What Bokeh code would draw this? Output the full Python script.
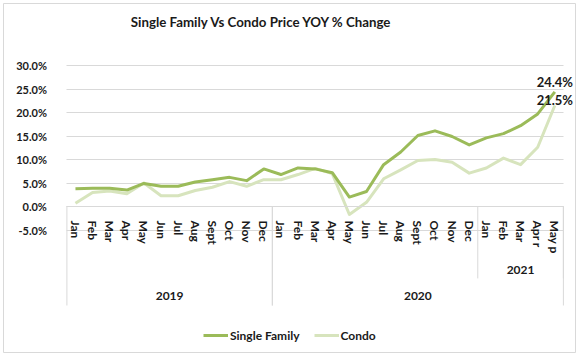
from bokeh.plotting import figure
from bokeh.models import (Range1d, LinearAxis, FixedTicker, PrintfTickFormatter, Grid,
                          ColumnDataSource, LabelSet, Label, Legend, LegendItem)
from bokeh.core.properties import value
from bokeh.embed import file_html
from bokeh.resources import INLINE

# ---------------- data ----------------
months = ["Jan", "Feb", "Mar", "Apr", "May", "Jun", "Jul", "Aug", "Sept", "Oct", "Nov", "Dec",
          "Jan", "Feb", "Mar", "Apr", "May", "Jun", "Jul", "Aug", "Sept", "Oct", "Nov", "Dec",
          "Jan", "Feb", "Mar", "Apr r", "May p"]
single_family = [3.8, 3.9, 3.9, 3.5, 4.9, 4.3, 4.3, 5.2, 5.7, 6.2, 5.5, 8.0,
                 6.8, 8.2, 8.0, 7.2, 2.0, 3.2, 8.9, 11.6, 15.1, 16.1, 14.9, 13.1,
                 14.6, 15.5, 17.2, 19.7, 24.4]
condo = [0.7, 3.0, 3.3, 2.7, 5.0, 2.3, 2.3, 3.4, 4.1, 5.3, 4.3, 5.7,
         5.7, 6.8, 8.1, 7.0, -1.7, 0.9, 5.9, 7.8, 9.8, 10.0, 9.4, 7.1,
         8.2, 10.3, 8.9, 12.6, 21.5]
end_labels = ["24.4%", "21.5%"]
group_labels = ["2019", "2020", "2021"]
group_first = [0, 12, 24]
group_last = [11, 28, 28]
group_level = [0, 0, 1]
y_ticks = [-5, 0, 5, 10, 15, 20, 25, 30]
title_text = "Single Family Vs Condo Price YOY % Change"

# ---------------- style / layout ----------------
FONT = "Lato"
SF_COLOR = "#9BBB59"
CONDO_COLOR = "#D7E4BD"
GRID_COLOR = "#D9D9D9"
BORDER_COLOR = "#D9D9D9"
TEXT_COLOR = "#1A1A1A"

W, H = 579, 357
B_LEFT, B_TOP, B_RIGHT, B_BOTTOM = 3, 3, 4, 5      # outer chart border inset
PLOT_LEFT_PX = 66.4       # screen x of the category area's left edge
PX_PER_CAT = 17.12
ZERO_PX = 206.0           # screen y of 0 %
PX_PER_PCT = 4.7

n = len(months)
idx = list(range(n))
cat_lo, cat_hi = -0.5, n - 0.5

frame_w = W - B_LEFT - B_RIGHT
frame_h = H - B_TOP - B_BOTTOM
x_start = cat_lo - (PLOT_LEFT_PX - B_LEFT) / PX_PER_CAT
x_end = x_start + frame_w / PX_PER_CAT
y_top = (ZERO_PX - B_TOP) / PX_PER_PCT
y_bot = (ZERO_PX - (H - B_BOTTOM)) / PX_PER_PCT

level_bottom = [-21.06, -15.3]
level_label_y = [-19.1, -13.6]

p = figure(width=W, height=H, output_backend="svg", toolbar_location=None,
           x_range=Range1d(x_start, x_end), y_range=Range1d(y_bot, y_top),
           x_axis_type=None, y_axis_type=None,
           min_border_left=B_LEFT, min_border_right=B_RIGHT,
           min_border_top=B_TOP, min_border_bottom=B_BOTTOM)
p.outline_line_color = BORDER_COLOR
p.outline_line_width = 1
p.background_fill_color = "white"
p.border_fill_color = "white"

# horizontal gridlines, limited to the category span
grid_kw = dict(dimension=1, ticker=FixedTicker(ticks=y_ticks),
               grid_line_color=GRID_COLOR, grid_line_width=1)
if "cross_bounds" in Grid.properties():
    p.add_layout(Grid(cross_bounds=(cat_lo, cat_hi), **grid_kw))
else:
    p.segment(x0=[cat_lo] * len(y_ticks), y0=y_ticks, x1=[cat_hi] * len(y_ticks), y1=y_ticks,
              line_color=GRID_COLOR, line_width=1, level="underlay")

# value axis (placed at the left edge of the category span)
yaxis = LinearAxis(fixed_location=cat_lo, ticker=FixedTicker(ticks=y_ticks),
                   formatter=PrintfTickFormatter(format="%.1f%%"),
                   axis_line_color=None, major_tick_line_color=None,
                   minor_tick_line_color=None, major_label_standoff=14,
                   major_label_text_font=FONT, major_label_text_font_style="bold",
                   major_label_text_font_size="11px", major_label_text_color=TEXT_COLOR)
p.add_layout(yaxis, "left")

# category axis crossing at 0
xaxis = LinearAxis(fixed_location=0, ticker=FixedTicker(ticks=idx), bounds=(cat_lo, cat_hi),
                   major_label_overrides={i: m for i, m in enumerate(months)},
                   major_label_orientation="vertical",
                   axis_line_color=GRID_COLOR, axis_line_width=1,
                   major_tick_line_color=None, minor_tick_line_color=None,
                   major_label_standoff=8,
                   major_label_text_font=FONT, major_label_text_font_style="bold",
                   major_label_text_font_size="12px", major_label_text_color=TEXT_COLOR)
p.add_layout(xaxis, "below")

# group separators and labels
sep_x, sep_y0, sep_y1 = [], [], []
for f, l, lev in zip(group_first, group_last, group_level):
    for b in (f - 0.5, l + 0.5):
        sep_x.append(b)
        sep_y0.append(0)
        sep_y1.append(level_bottom[lev])
p.segment(x0=sep_x, y0=sep_y0, x1=sep_x, y1=sep_y1, line_color=GRID_COLOR, line_width=1)

gx = [(f + l) / 2 for f, l in zip(group_first, group_last)]
gy = [level_label_y[lev] for lev in group_level]
p.text(x=gx, y=gy, text=group_labels, text_font=value(FONT), text_font_style="bold",
       text_font_size="12px", text_color=TEXT_COLOR, text_align="center",
       text_baseline="middle")

# lines
r_condo = p.line(idx, condo, line_color=CONDO_COLOR, line_width=3, line_join="round")
r_sf = p.line(idx, single_family, line_color=SF_COLOR, line_width=3, line_join="round")

# end labels
lab_src = ColumnDataSource(dict(x=[n - 1, n - 1], y=[single_family[-1], condo[-1]],
                                text=end_labels, dy=[10, 5]))
p.add_layout(LabelSet(x="x", y="y", text="text", y_offset="dy", source=lab_src,
                      text_font=value(FONT), text_font_style="bold", text_font_size="13px",
                      text_color=TEXT_COLOR, text_align="center", text_baseline="middle"))

# title
p.add_layout(Label(x=10.87, y=39.15, text=title_text, text_font=FONT,
                   text_font_style="bold", text_font_size="13.3px", text_color=TEXT_COLOR,
                   text_align="center", text_baseline="middle"))

# legend
legend = Legend(items=[LegendItem(label="Single Family", renderers=[r_sf]),
                       LegendItem(label="Condo", renderers=[r_condo])],
                location=(200, 9), orientation="horizontal",
                glyph_width=25, glyph_height=16, label_height=16, label_standoff=2,
                spacing=14, padding=0, margin=0,
                border_line_color=None, background_fill_alpha=0,
                label_text_font=FONT, label_text_font_style="bold",
                label_text_font_size="12px", label_text_color=TEXT_COLOR)
p.add_layout(legend)

open("out.html", "w").write(file_html(p, INLINE))
